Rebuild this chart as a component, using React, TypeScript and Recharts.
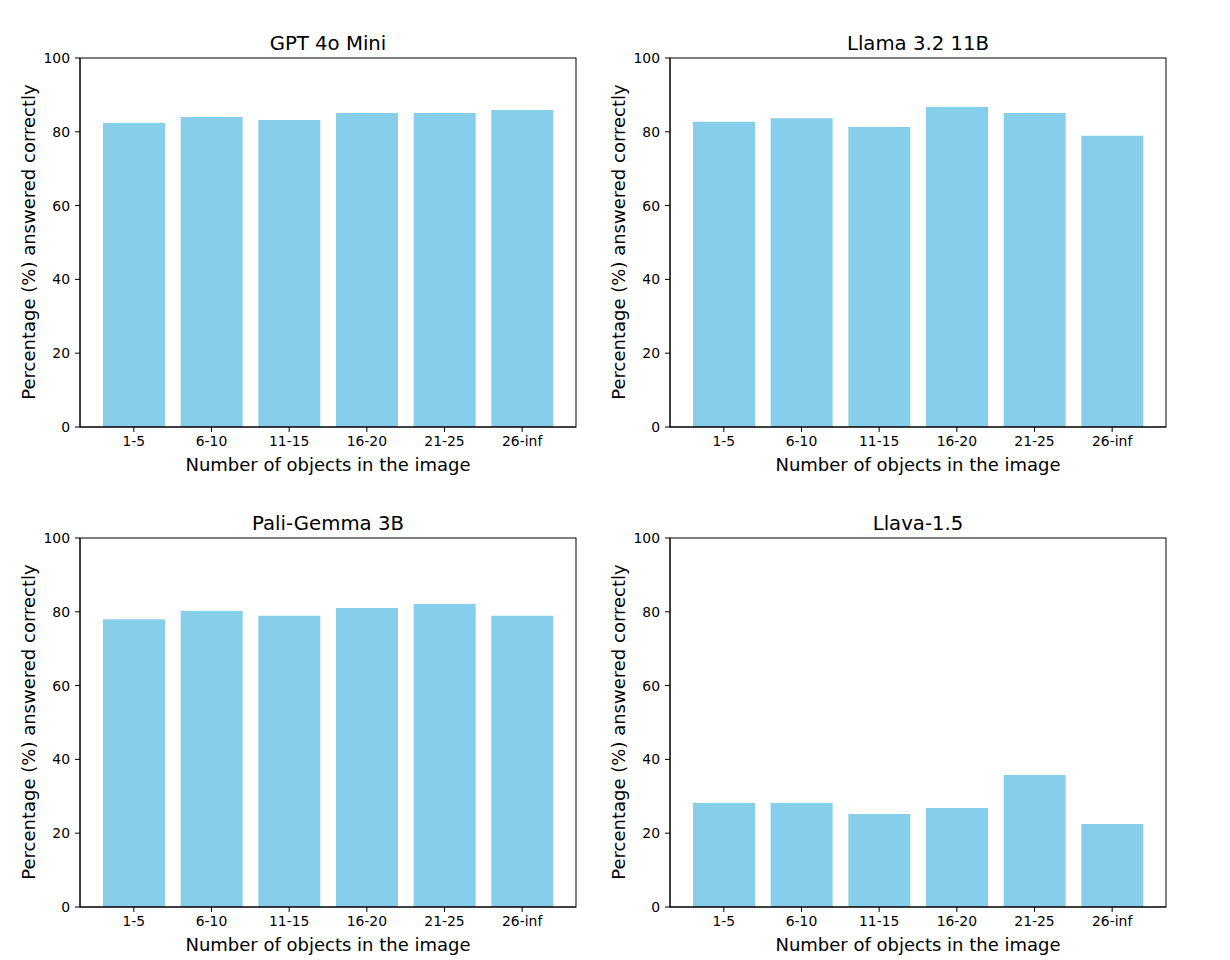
import { BarChart, Bar, XAxis, YAxis } from "recharts"

const categories = ["1-5", "6-10", "11-15", "16-20", "21-25", "26-inf"]
const gpt4oMini = [82.4, 84.0, 83.2, 85.1, 85.1, 85.9]
const llama32 = [82.7, 83.7, 81.3, 86.7, 85.1, 78.9]
const paliGemma = [78.0, 80.2, 78.9, 81.0, 82.1, 78.9]
const llava15 = [28.2, 28.2, 25.2, 26.8, 35.8, 22.5]
const yTicks = [0, 20, 40, 60, 80, 100]

const FONT = "'DejaVu Sans', sans-serif"

function Panel({ title, values, left, top }: { title: string; values: number[]; left: number; top: number }) {
  const data = categories.map((c, i) => ({ cat: c, value: values[i] }))
  return (
    <div style={{ position: "absolute", left, top, width: 600, height: 480 }}>
      <BarChart
        width={600}
        height={480}
        data={data}
        margin={{ top: 58, left: 30, right: 24, bottom: 23 }}
        style={{ fontFamily: FONT }}
      >
        <XAxis
          dataKey="cat"
          height={30}
          padding={{ left: 15, right: 15 }}
          axisLine={{ stroke: "#000" }}
          tickLine={{ stroke: "#000" }}
          tickSize={5}
          tickMargin={4}
          tick={{ fill: "#000", fontSize: 13.9 }}
          interval={0}
        />
        <YAxis
          width={50}
          domain={[0, 100]}
          ticks={yTicks}
          axisLine={{ stroke: "#000" }}
          tickLine={{ stroke: "#000" }}
          tickSize={5}
          tickMargin={5}
          tick={{ fill: "#000", fontSize: 13.9 }}
        />
        <Bar dataKey="value" fill="#87CEEB" barSize={62} isAnimationActive={false} />
      </BarChart>
      {/* frame: top and right spines */}
      <svg width={600} height={480} style={{ position: "absolute", left: 0, top: 0, pointerEvents: "none" }}>
        <rect x={80} y={58} width={496} height={369} fill="none" stroke="#000" strokeWidth={1} />
      </svg>
      <div style={{ position: "absolute", left: 328, top: 43, transform: "translate(-50%, -50%)", fontSize: 19.7, whiteSpace: "nowrap" }}>
        {title}
      </div>
      <div style={{ position: "absolute", left: 328, top: 464, transform: "translate(-50%, -50%)", fontSize: 18, whiteSpace: "nowrap" }}>
        Number of objects in the image
      </div>
      <div style={{ position: "absolute", left: 28, top: 242, transform: "translate(-50%, -50%) rotate(-90deg)", fontSize: 18, whiteSpace: "nowrap" }}>
        Percentage (%) answered correctly
      </div>
    </div>
  )
}

export default function App() {
  return (
    <div style={{ position: "absolute", left: 0, top: 0, width: 1230, height: 960, background: "#fff", fontFamily: FONT, color: "#000" }}>
      <Panel title="GPT 4o Mini" values={gpt4oMini} left={0} top={0} />
      <Panel title="Llama 3.2 11B" values={llama32} left={590} top={0} />
      <Panel title="Pali-Gemma 3B" values={paliGemma} left={0} top={480} />
      <Panel title="Llava-1.5" values={llava15} left={590} top={480} />
    </div>
  )
}
